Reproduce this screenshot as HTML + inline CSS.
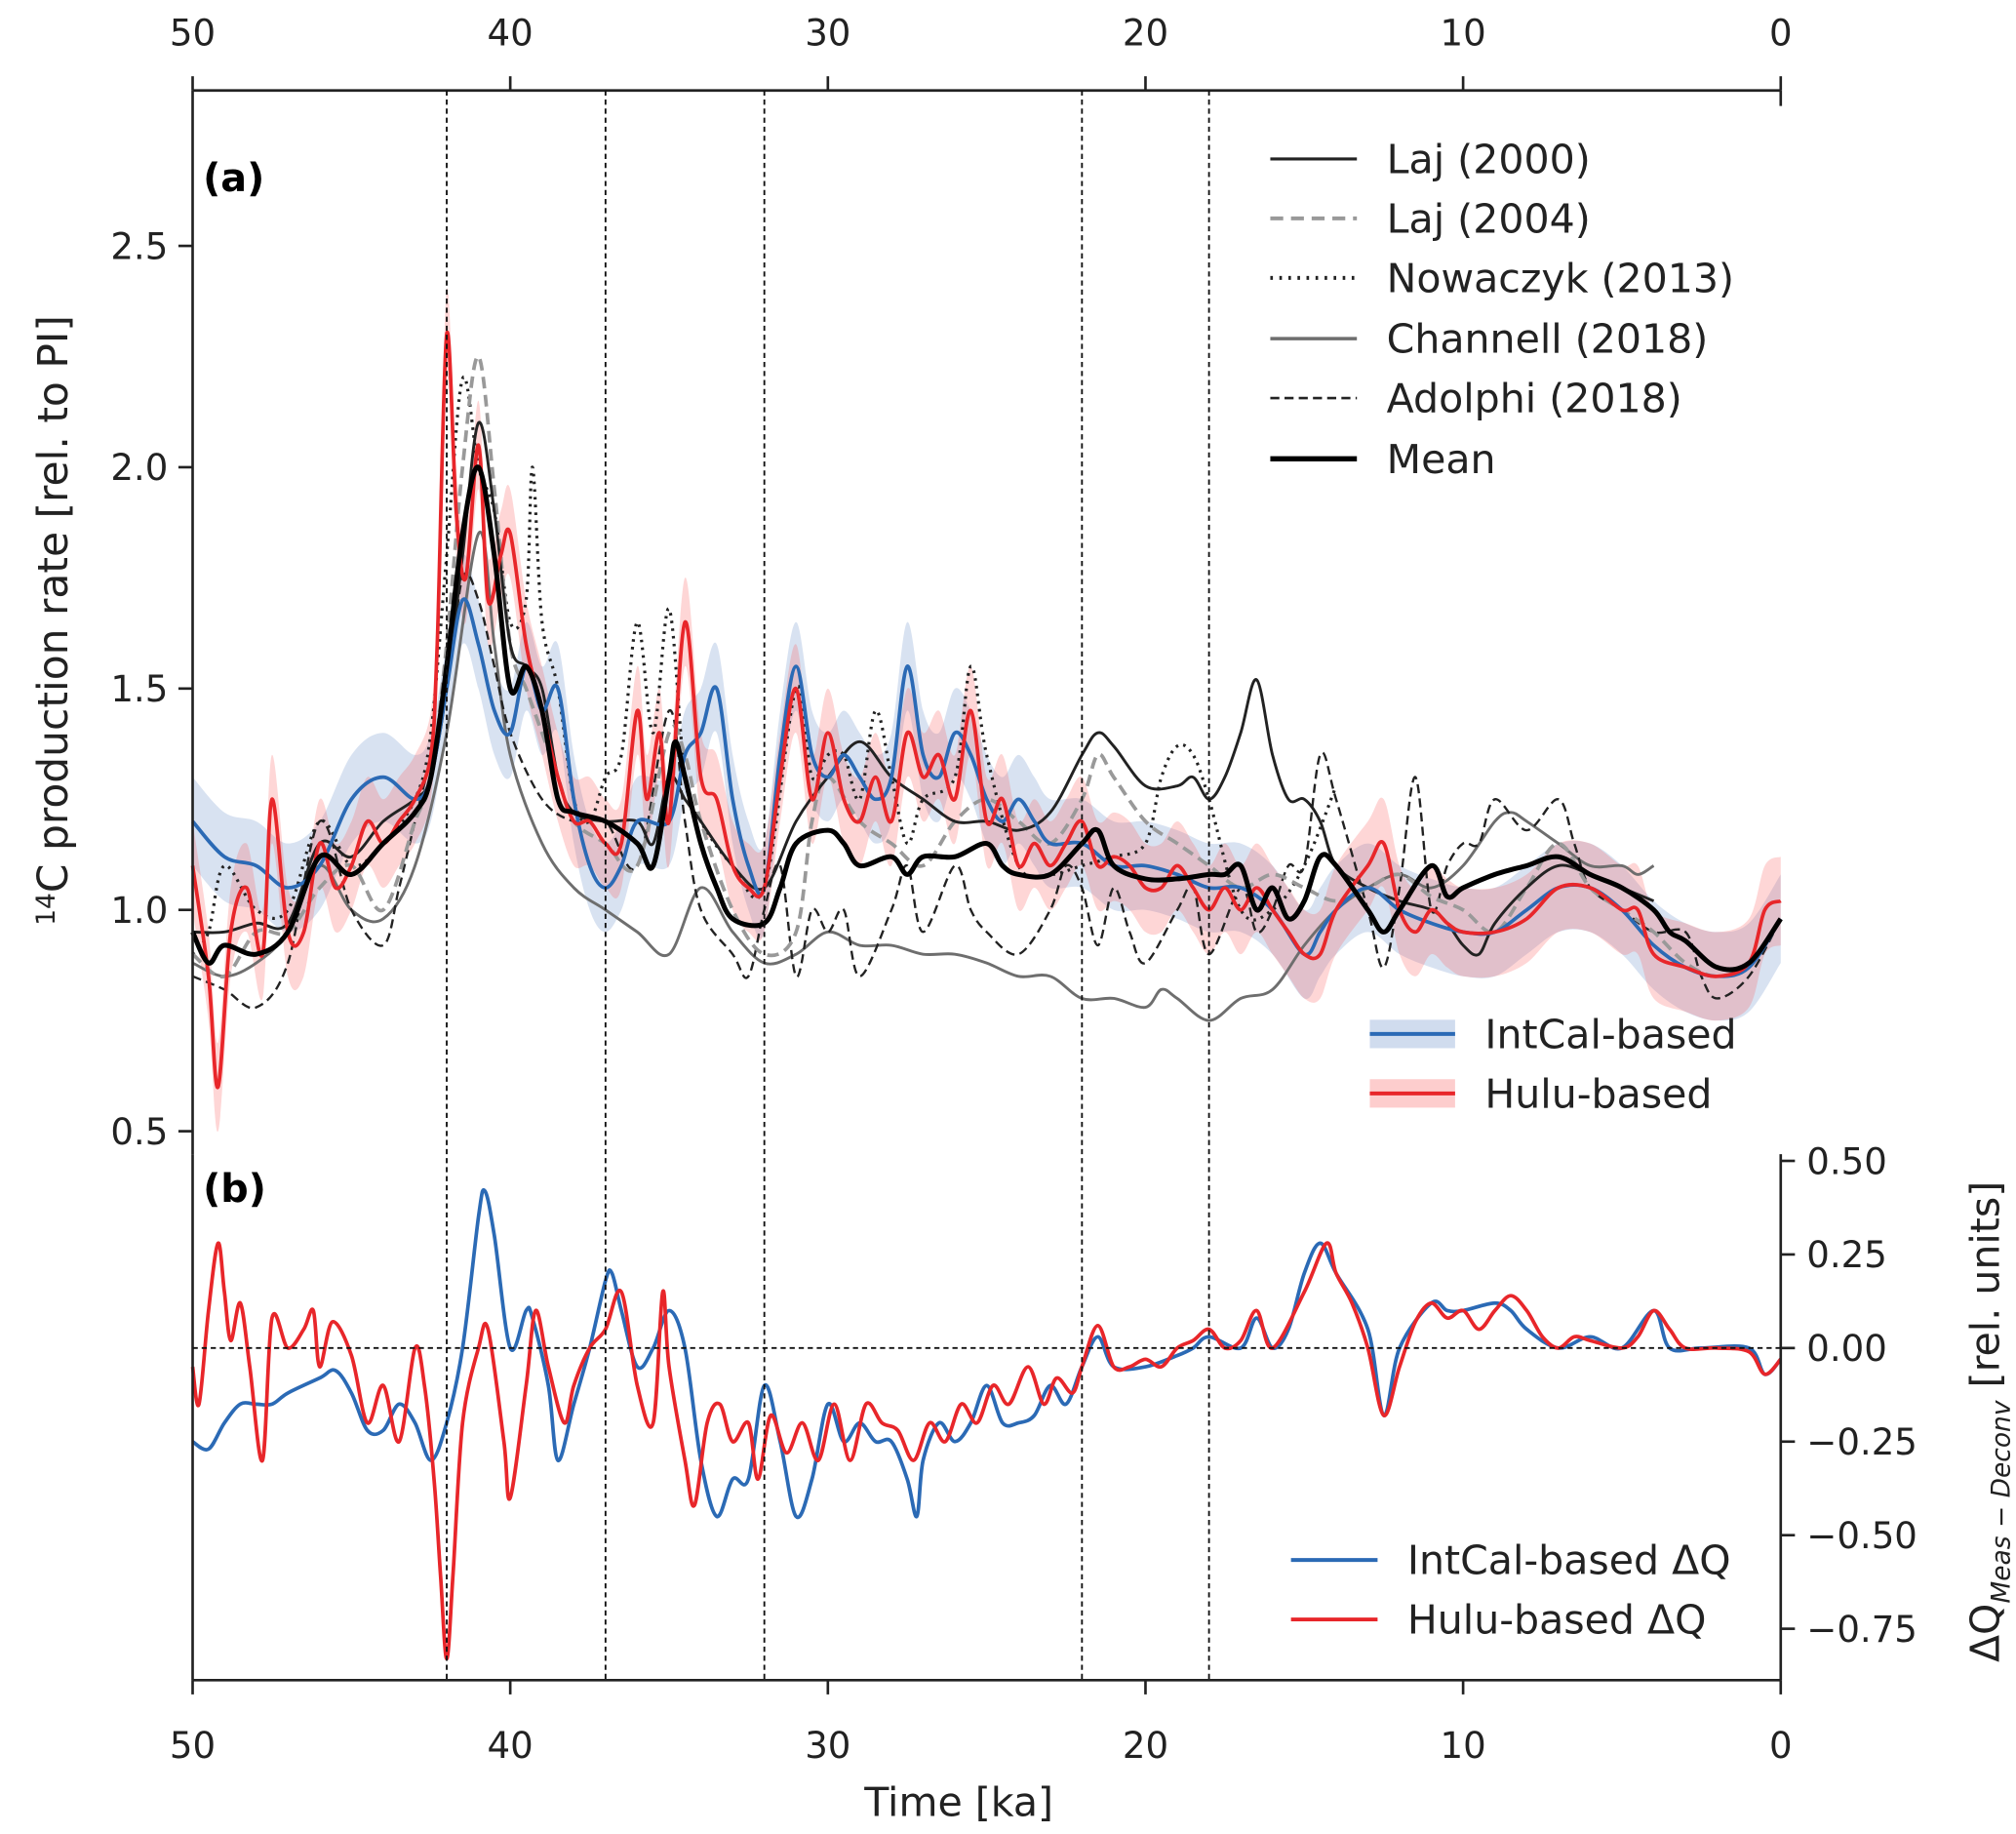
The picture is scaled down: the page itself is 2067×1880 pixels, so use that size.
<!DOCTYPE html>
<html><head><meta charset="utf-8"><style>
html,body{margin:0;padding:0;background:#fff;}
svg{display:block;font-family:"DejaVu Sans","Liberation Sans",sans-serif;}
</style></head><body>
<svg id="chart" width="2067" height="1880" viewBox="0 0 1560 1419" xmlns="http://www.w3.org/2000/svg">
<g id="bands"></g><g id="lines"></g><g id="axes"></g>
</svg>
<script>
// ---- data (time in ka, values) ----
const huluT=[50,49.5,49.2,48.8,48.3,47.8,47.5,47,46.5,46,45.5,45,44.5,44,43.5,43,42.5,42.3,42,41.7,41.4,41,40.7,40.3,40,39.5,39,38.5,38,37.5,37,36.5,36,35.7,35.3,35,34.5,34,33.5,33,32.5,32,31.5,31,30.5,30,29.5,29,28.5,28,27.5,27,26.5,26,25.5,25,24.5,24,23.5,23,22.5,22,21.5,21,20.5,20,19.5,19,18.5,18,17.5,17,16.5,16,15.5,15,14.5,14,13,12.5,12,11.5,11,10.5,10,9,8,7,6,5,4.5,4,3,2,1,0.5,0];
const huluV=[1.1,0.85,0.6,0.95,1.05,0.9,1.25,0.95,0.95,1.15,1.05,1.1,1.2,1.15,1.2,1.25,1.35,1.6,2.3,1.9,1.75,2.05,1.7,1.8,1.85,1.6,1.45,1.3,1.2,1.2,1.15,1.15,1.45,1.25,1.4,1.2,1.65,1.3,1.25,1.1,1.05,1.05,1.3,1.5,1.25,1.4,1.25,1.2,1.3,1.2,1.4,1.3,1.35,1.25,1.45,1.2,1.25,1.1,1.15,1.1,1.15,1.2,1.1,1.12,1.1,1.05,1.05,1.1,1.05,1.0,1.05,1.0,1.05,1.0,0.95,0.9,0.9,1.0,1.1,1.15,1.0,0.95,1.0,0.97,0.95,0.95,0.98,1.05,1.05,1.0,1.0,0.9,0.87,0.85,0.88,1.0,1.02];
const intcalT=[50,49,48,47,46,45,44,43,42.5,42,41.5,41,40.5,40,39.5,39,38.5,38,37.5,37,36.5,36,35,34.5,34,33.5,33,32.5,32,31.5,31,30.5,30,29.5,29,28.5,28,27.5,27,26.5,26,25.5,25,24.5,24,23.5,23,22,21,20,19,18,17,16,15,14.5,14,13,12,11,10,9,8,7,6,5,4,3,2,1,0];
const intcalV=[1.2,1.12,1.1,1.05,1.1,1.25,1.3,1.25,1.3,1.5,1.7,1.6,1.45,1.4,1.55,1.45,1.5,1.25,1.1,1.05,1.1,1.2,1.2,1.35,1.4,1.5,1.25,1.1,1.05,1.35,1.55,1.35,1.3,1.35,1.3,1.25,1.3,1.55,1.35,1.3,1.4,1.35,1.25,1.2,1.25,1.2,1.15,1.15,1.1,1.1,1.08,1.05,1.05,1.0,0.9,0.95,1.0,1.05,1.0,0.97,0.95,0.95,1.0,1.05,1.05,1.0,0.92,0.87,0.85,0.87,0.98];
const laj2000T=[50,49,48,47,46,45,44,43,42.5,42,41.5,41,40.5,40,39.5,39,38.5,38,37,36,35.5,35,34.5,34,33,32,31,30,29,28,27,26,25,24,23,22,21.5,21,20,19,18.5,18,17.5,17,16.5,16,15.5,15,14.5,14,13,12,11,10.5,10,9.5,9,8,7,6,5,4];
const laj2000V=[0.95,0.95,0.97,0.97,1.15,1.12,1.2,1.25,1.3,1.5,1.8,2.1,1.9,1.6,1.55,1.5,1.3,1.22,1.2,1.2,1.15,1.3,1.25,1.2,1.1,1.05,1.2,1.3,1.38,1.3,1.25,1.2,1.2,1.18,1.22,1.35,1.4,1.37,1.28,1.28,1.3,1.25,1.3,1.4,1.52,1.35,1.25,1.25,1.2,1.1,1.05,1.02,1.0,0.97,0.92,0.9,0.97,1.05,1.1,1.08,1.05,1.02];
const laj2004T=[50,49,48,47,46,45,44,43,42.5,42,41.5,41,40.5,40,39.5,39,38.5,38,37,36,35,34.5,34,33,32,31,30.5,30,29,28,27,26,25,24,23,22,21.5,21,20,19,18,17,16,15,14,13,12,11,10,9,8,7,6,5,4,3,2,1,0];
const laj2004V=[0.9,0.85,0.95,0.95,1.05,1.1,1.0,1.2,1.3,1.6,2.0,2.25,1.95,1.6,1.5,1.4,1.3,1.2,1.15,1.1,1.4,1.35,1.2,1.0,0.9,0.95,1.2,1.3,1.2,1.15,1.1,1.2,1.25,1.2,1.15,1.25,1.35,1.3,1.2,1.15,1.1,1.05,1.08,1.05,1.02,1.05,1.08,1.03,1.0,0.95,1.05,1.15,1.05,1.0,0.95,0.88,0.85,0.88,0.98];
const nowT=[50,49.5,49,48,47,46,45,44,43,42.5,42,41.5,41,40.5,40,39.5,39.3,39,38.5,38,37.5,37,36.5,36,35.5,35,34.5,34,33,32,31,30.5,30,29.5,29,28.5,28,27.5,27,26,25.5,25,24,23,22,21,20,19.5,19,18.5,18,17,16,15,14];
const nowV=[0.9,0.95,1.1,1.0,1.0,1.2,1.1,1.15,1.25,1.4,1.8,2.2,2.0,1.9,1.65,1.7,2.0,1.65,1.5,1.25,1.2,1.3,1.35,1.65,1.4,1.68,1.3,1.2,1.1,1.05,1.5,1.3,1.35,1.35,1.25,1.45,1.3,1.15,1.25,1.3,1.55,1.35,1.1,1.08,1.1,1.12,1.15,1.3,1.37,1.35,1.25,1.0,1.0,1.1,1.28];
const chanT=[50,49,48,47,46,45,44,43,42,41,40.5,40,39,38,37,36,35,34,33,32,31,30,29,28,27,26,25,24,23,22,21,20,19.5,19,18,17,16,15,14,13,12,11,10,9,8.5,8,7,6,5,4.5,4];
const chanV=[0.88,0.85,0.88,0.95,1.1,1.0,0.98,1.1,1.4,1.85,1.6,1.35,1.15,1.05,1.0,0.95,0.9,1.05,0.95,0.88,0.9,0.95,0.92,0.92,0.9,0.9,0.88,0.85,0.85,0.8,0.8,0.78,0.82,0.8,0.75,0.8,0.82,0.92,1.0,1.05,1.08,1.05,1.1,1.2,1.22,1.2,1.15,1.1,1.1,1.08,1.1];
const adoT=[50,49,48,47,46,45,44,43.5,43,42,41.5,41,40.5,40,39,38,37,36,35,34.5,34,33,32.5,32,31.5,31,30.5,30,29.5,29,28,27.5,27,26,25.5,25,24,23,22.5,22,21.5,21,20.5,20,19,18.5,18,17,16.5,16,15.5,15,14.5,14,13,12.5,12,11.5,11,10.5,10,9.5,9,8,7,6.5,6,5,4,3,2.5,2,1,0];
const adoV=[0.85,0.82,0.78,0.88,1.2,1.0,0.92,1.05,1.2,1.5,1.75,1.7,1.55,1.4,1.25,1.2,1.2,1.1,1.45,1.2,1.0,0.9,0.85,1.0,1.1,0.85,1.0,0.95,1.0,0.85,1.0,1.1,0.95,1.1,1.0,0.95,0.9,1.0,1.1,1.05,0.92,1.05,0.95,0.88,1.0,1.05,0.9,1.05,0.95,1.0,1.1,1.1,1.35,1.25,1.0,0.87,1.05,1.3,1.0,1.1,1.15,1.15,1.25,1.18,1.25,1.15,1.05,1.0,0.95,0.95,0.85,0.8,0.85,0.98];
const meanT=[50,49.5,49,48,47,46,45,44,43,42.5,42,41.5,41,40.5,40,39.5,39,38.5,38,37,36,35.5,35,34.8,34.5,34,33.5,33,32,31.5,31,30,29.5,29,28,27.5,27,26,25,24.5,24,23,22,21.5,21,20,19,18,17.5,17,16.5,16,15.5,15,14.5,14,13,12.5,12,11,10.5,10,9,8,7,6,5,4,3.5,3,2,1,0];
const meanV=[0.95,0.88,0.92,0.9,0.95,1.12,1.08,1.15,1.22,1.3,1.55,1.85,2.0,1.8,1.5,1.55,1.45,1.25,1.22,1.2,1.15,1.1,1.3,1.38,1.3,1.15,1.05,0.98,0.97,1.05,1.15,1.18,1.15,1.1,1.12,1.08,1.12,1.12,1.15,1.1,1.08,1.08,1.15,1.18,1.1,1.07,1.07,1.08,1.08,1.1,1.0,1.05,0.98,1.02,1.12,1.1,1.0,0.95,1.0,1.1,1.03,1.05,1.08,1.1,1.12,1.08,1.05,1.0,0.95,0.93,0.87,0.88,0.98];
const dqBlueT=[50,49.5,49,48.5,48,47.5,47,46,45.5,45,44.5,44,43.5,43,42.5,42,41.5,41,40.8,40.5,40,39.5,39.3,38.8,38.5,38,37.5,37,36.8,36.5,36,35.5,35,34.5,34,33.5,33,32.5,32,31.5,31,30.5,30,29.5,29,28.5,28,27.5,27.2,27,26.5,26,25.5,25,24.5,24,23.5,23,22.5,22,21.5,21,20,19,18.5,18,17,16.5,16,15.5,15,14.5,14,13,12.5,12,11,10.5,10,9,8.5,8,7,6,5,4,3.5,2.5,1,0.5,0];
const dqBlueV=[-0.25,-0.27,-0.2,-0.15,-0.15,-0.15,-0.12,-0.08,-0.06,-0.12,-0.22,-0.22,-0.15,-0.2,-0.3,-0.2,0.0,0.35,0.42,0.3,0.0,0.1,0.08,-0.1,-0.3,-0.15,0.0,0.18,0.2,0.1,-0.05,0.0,0.1,0.0,-0.3,-0.45,-0.35,-0.35,-0.1,-0.25,-0.45,-0.35,-0.15,-0.25,-0.2,-0.25,-0.25,-0.35,-0.45,-0.3,-0.2,-0.25,-0.2,-0.1,-0.2,-0.2,-0.18,-0.1,-0.15,-0.05,0.03,-0.05,-0.05,-0.02,0.0,0.03,0.0,0.08,0.0,0.05,0.2,0.28,0.2,0.05,-0.18,0.0,0.12,0.1,0.1,0.12,0.1,0.05,0.0,0.03,0.0,0.1,0.0,0.0,0.0,-0.07,-0.03];
const dqRedT=[50,49.8,49.5,49.2,49,48.8,48.5,48.2,47.8,47.5,47,46.5,46.2,46,45.6,45,44.5,44,43.5,43,42.7,42.4,42.2,42,41.8,41.5,41,40.7,40.2,40,39.5,39.2,38.8,38.3,38,37.5,37,36.5,36,35.5,35.2,35,34.5,34.2,33.8,33.4,33,32.5,32.2,31.8,31.3,30.8,30.3,29.8,29.3,28.8,28.3,27.8,27.3,26.8,26.3,25.8,25.3,24.8,24.3,23.7,23.2,22.8,22.3,22,21.5,21,20.5,20,19.5,19,18.5,18,17.5,17,16.5,16,15,14.3,14,13.5,13,12.5,12,11.5,11,10.5,10,9.5,9,8.5,8,7.5,7,6.5,6,5,4.5,4,3.5,3,2,1,0.5,0];
const dqRedV=[-0.05,-0.15,0.1,0.28,0.15,0.02,0.12,-0.05,-0.3,0.08,0.0,0.05,0.1,-0.05,0.07,-0.02,-0.2,-0.1,-0.25,0.0,-0.1,-0.35,-0.6,-0.83,-0.6,-0.2,0.0,0.05,-0.25,-0.4,-0.1,0.1,-0.05,-0.2,-0.1,0.0,0.05,0.15,-0.1,-0.2,0.15,-0.05,-0.3,-0.42,-0.2,-0.15,-0.25,-0.2,-0.35,-0.18,-0.28,-0.2,-0.3,-0.15,-0.3,-0.15,-0.2,-0.22,-0.3,-0.2,-0.25,-0.15,-0.2,-0.1,-0.15,-0.05,-0.15,-0.08,-0.12,-0.05,0.06,-0.05,-0.05,-0.03,-0.05,0.0,0.02,0.05,0.0,0.02,0.1,0.0,0.15,0.28,0.2,0.12,0.0,-0.18,-0.05,0.07,0.12,0.08,0.1,0.05,0.1,0.14,0.1,0.03,0.0,0.03,0.02,0.0,0.03,0.1,0.05,0.0,0.0,-0.01,-0.07,-0.03];
const bandHalfWidth=0.1;
const xTicks=[50,40,30,20,10,0];
const yTicksA=["0.5","1.0","1.5","2.0","2.5"];
const yTicksB=["0.50","0.25","0.00","−0.25","−0.50","−0.75"];
const yTicksBVal=[0.5,0.25,0,-0.25,-0.5,-0.75];
const vLines=[42,37,32,22,18];

// ---- scales ----
const X=t=>149+(50-t)*24.58;
const YA=v=>704-(v-1)*342.5;
const YB=v=>1043-v*289.6;
const NS="http://www.w3.org/2000/svg";
function mk(tag,attrs,parent){const e=document.createElementNS(NS,tag);for(const k in attrs)e.setAttribute(k,attrs[k]);parent.appendChild(e);return e;}
function smooth(pts){let d="M"+pts[0][0].toFixed(1)+","+pts[0][1].toFixed(1);
 for(let i=0;i<pts.length-1;i++){const p0=pts[Math.max(0,i-1)],p1=pts[i],p2=pts[i+1],p3=pts[Math.min(pts.length-1,i+2)];
 const c1=[p1[0]+(p2[0]-p0[0])/6,p1[1]+(p2[1]-p0[1])/6],c2=[p2[0]-(p3[0]-p1[0])/6,p2[1]-(p3[1]-p1[1])/6];
 d+="C"+c1[0].toFixed(1)+","+c1[1].toFixed(1)+" "+c2[0].toFixed(1)+","+c2[1].toFixed(1)+" "+p2[0].toFixed(1)+","+p2[1].toFixed(1);}
 return d;}
const bands=document.getElementById('bands'),lines=document.getElementById('lines'),axes=document.getElementById('axes');
function band(T,V,fill,name){const up=T.map((t,i)=>[X(t),YA(V[i]+bandHalfWidth)]);const lo=T.map((t,i)=>[X(t),YA(V[i]-bandHalfWidth)]).reverse();
 const d=smooth(up)+"L"+smooth(lo).slice(1)+"Z";const p=mk('path',{d:d,fill:fill,stroke:'none'},bands);
 
 }
band(intcalT,intcalV,'rgba(100,140,200,0.25)','intcal-band');
band(huluT,huluV,'rgba(250,90,90,0.25)','hulu-band');
function line(T,V,Y,stroke,w,dash,name){const p=mk('path',{d:smooth(T.map((t,i)=>[X(t),Y(V[i])])),fill:'none',stroke:stroke,'stroke-width':w,'stroke-dasharray':dash||'none','stroke-linejoin':'round'},lines);
 
 }
line(chanT,chanV,YA,'#6e6e6e',2.2,null,'channell-2018-line');
line(adoT,adoV,YA,'#222',1.8,'7,4','adolphi-2018-line');
line(nowT,nowV,YA,'#222',2.4,'2,4','nowaczyk-2013-line');
line(laj2004T,laj2004V,YA,'#999',2.8,'9,5','laj-2004-line');
line(laj2000T,laj2000V,YA,'#222',2.2,null,'laj-2000-line');
line(intcalT,intcalV,YA,'#2b6ab5',2.8,null,'intcal-line');
line(huluT,huluV,YA,'#e8262a',2.8,null,'hulu-line');
line(meanT,meanV,YA,'#000',3.8,null,'mean-line');
line(dqBlueT,dqBlueV,YB,'#2b6ab5',2.8,null,'intcal-dq-line');
line(dqRedT,dqRedV,YB,'#e8262a',2.8,null,'hulu-dq-line');

// ---- axes ----
const ax={stroke:'#222','stroke-width':2};
mk('line',Object.assign({x1:149,y1:70,x2:1378,y2:70},ax),axes);
mk('line',Object.assign({x1:149,y1:1300,x2:1378,y2:1300},ax),axes);
mk('line',Object.assign({x1:149,y1:70,x2:149,y2:893},ax),axes);
mk('line',Object.assign({x1:149,y1:893,x2:149,y2:1300},ax),axes);
mk('line',Object.assign({x1:1378,y1:70,x2:1378,y2:82},ax),axes);
mk('line',Object.assign({x1:1378,y1:893,x2:1378,y2:1300},ax),axes);
vLines.forEach(t=>{const l=mk('line',{x1:X(t),y1:70,x2:X(t),y2:1300,stroke:'#111','stroke-width':1.4,'stroke-dasharray':'4,3'},axes);
 
 });
const z=mk('line',{x1:149,y1:YB(0),x2:1378,y2:YB(0),stroke:'#111','stroke-width':1.4,'stroke-dasharray':'4,3'},axes);

function txt(x,y,s,size,anchor,extra){const e=mk('text',Object.assign({x:x,y:y,'font-size':size,'text-anchor':anchor||'middle',fill:'#222'},extra||{}),axes);e.textContent=s;return e;}
xTicks.forEach(t=>{mk('line',Object.assign({x1:X(t),y1:70,x2:X(t),y2:59},ax),axes);mk('line',Object.assign({x1:X(t),y1:1300,x2:X(t),y2:1311},ax),axes);
 const a=txt(X(t),35,String(t),28);
 const b=txt(X(t),1360,String(t),28);});
yTicksA.forEach(s=>{const y=YA(parseFloat(s));mk('line',Object.assign({x1:149,y1:y,x2:138,y2:y},ax),axes);
 const e=txt(130,y+10,s,28,'end');});
yTicksB.forEach((s,i)=>{const y=YB(yTicksBVal[i]);mk('line',Object.assign({x1:1378,y1:y,x2:1389,y2:y},ax),axes);
 const e=txt(1398,y+10,s,28,'start');});
const xt=txt(742,1405,'Time [ka]',31);
const ya=mk('text',{x:0,y:0,'font-size':32,'text-anchor':'middle',fill:'#222',transform:'translate(52,480) rotate(-90)'},axes);
ya.innerHTML='<tspan font-size="20" dy="-10">14</tspan><tspan dy="10">C production rate [rel. to PI]</tspan>';

const yb=mk('text',{x:0,y:0,'font-size':31,'text-anchor':'middle',fill:'#222',transform:'translate(1547,1100) rotate(-90)'},axes);
yb.innerHTML='ΔQ<tspan font-size="20" font-style="italic" dy="8">Meas − Deconv</tspan><tspan dy="-8"> [rel. units]</tspan>';

const pa=txt(157,148,'(a)',30,'start',{'font-weight':'bold',fill:'#000'});
const pb=txt(157,930,'(b)',30,'start',{'font-weight':'bold',fill:'#000'});
// legends
const leg=[['Laj (2000)','#222',2.4,null,123],['Laj (2004)','#999',3,'10,6',169],['Nowaczyk (2013)','#222',3,'2,5',215],['Channell (2018)','#6e6e6e',2.6,null,262],['Adolphi (2018)','#222',2,'7,4',308],['Mean','#000',4,null,355]];
leg.forEach(r=>{mk('line',{x1:983,y1:r[4],x2:1050,y2:r[4],stroke:r[1],'stroke-width':r[2],'stroke-dasharray':r[3]||'none'},axes);
 const e=txt(1073,r[4]+11,r[0],31,'start');});
[['IntCal-based','rgba(100,140,200,0.3)','#2b6ab5',800],['Hulu-based','rgba(250,90,90,0.3)','#e8262a',846]].forEach(r=>{
 mk('rect',{x:1060,y:r[3]-11,width:66,height:22,fill:r[1]},axes);mk('line',{x1:1060,y1:r[3],x2:1126,y2:r[3],stroke:r[2],'stroke-width':3},axes);
 const e=txt(1149,r[3]+11,r[0],31,'start');});
[['IntCal-based ΔQ','#2b6ab5',1207],['Hulu-based ΔQ','#e8262a',1253]].forEach(r=>{
 mk('line',{x1:999,y1:r[2],x2:1066,y2:r[2],stroke:r[1],'stroke-width':3},axes);
 const e=txt(1089,r[2]+11,r[0],31,'start');});
</script>
</body></html>
